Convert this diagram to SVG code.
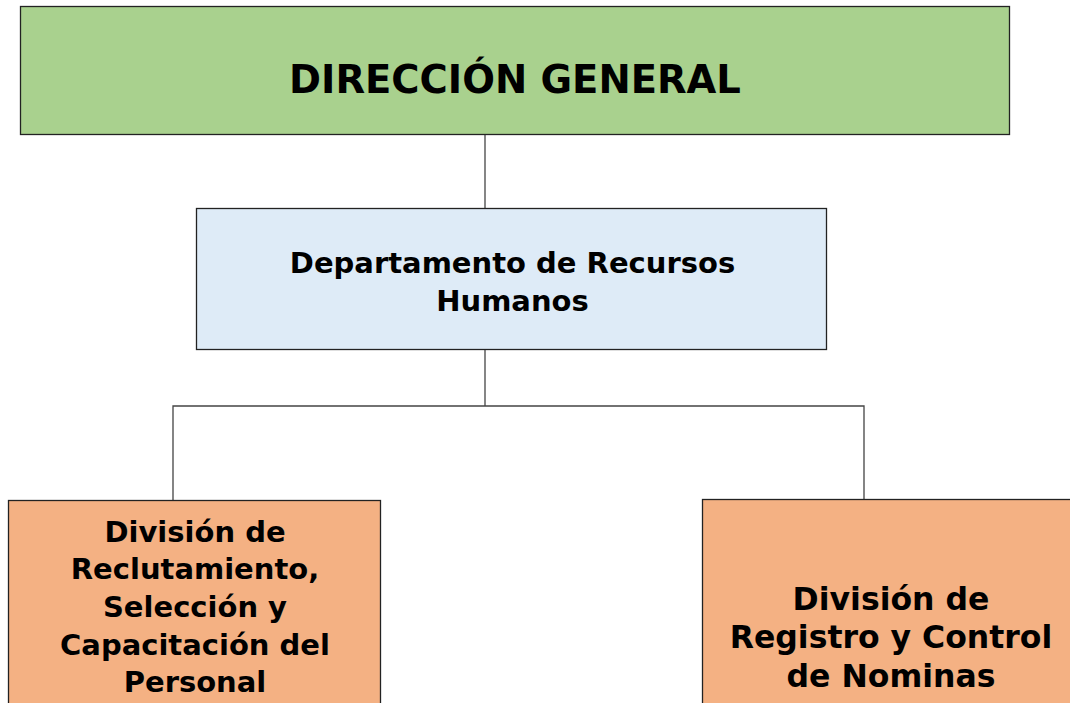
<svg xmlns="http://www.w3.org/2000/svg" width="1070" height="703" viewBox="0 0 1070 703">
<style>
.box{stroke:#222;stroke-width:1.3}
.t{font-family:"DejaVu Sans",Verdana,sans-serif;font-weight:bold;fill:#000;text-anchor:middle}
.c{fill:none;stroke:#444;stroke-width:1.3}
</style>
<rect width="1070" height="703" fill="#fff"/>
<g id="connectors">
<line class="c" x1="485" y1="135" x2="485" y2="208"/>
<line class="c" x1="485" y1="350" x2="485" y2="406"/>
<polyline class="c" points="173,500 173,406 864,406 864,500"/>
</g>
<g id="direccion">
<rect class="box" x="20.5" y="6.5" width="989" height="128" fill="#a9d18e"/>
<text class="t" x="515" y="93" font-size="38.5">DIRECCIÓN GENERAL</text>
</g>
<g id="rrhh">
<rect class="box" x="196.5" y="208.5" width="630" height="141" fill="#deebf7"/>
<text class="t" x="512.5" y="273" font-size="29">Departamento de Recursos</text>
<text class="t" x="512.5" y="311" font-size="29">Humanos</text>
</g>
<g id="reclutamiento">
<rect class="box" x="8.5" y="500.5" width="372" height="220" fill="#f4b183"/>
<text class="t" x="195" y="542" font-size="29">División de</text>
<text class="t" x="195" y="579" font-size="29">Reclutamiento,</text>
<text class="t" x="195" y="617" font-size="29">Selección y</text>
<text class="t" x="195" y="655" font-size="29">Capacitación del</text>
<text class="t" x="195" y="692" font-size="29">Personal</text>
</g>
<g id="nominas">
<rect class="box" x="702.5" y="499.5" width="380" height="220" fill="#f4b183"/>
<text class="t" x="891" y="610" font-size="31.5">División de</text>
<text class="t" x="891" y="648" font-size="31.5">Registro y Control</text>
<text class="t" x="891" y="687" font-size="31.5">de Nominas</text>
</g>
</svg>
